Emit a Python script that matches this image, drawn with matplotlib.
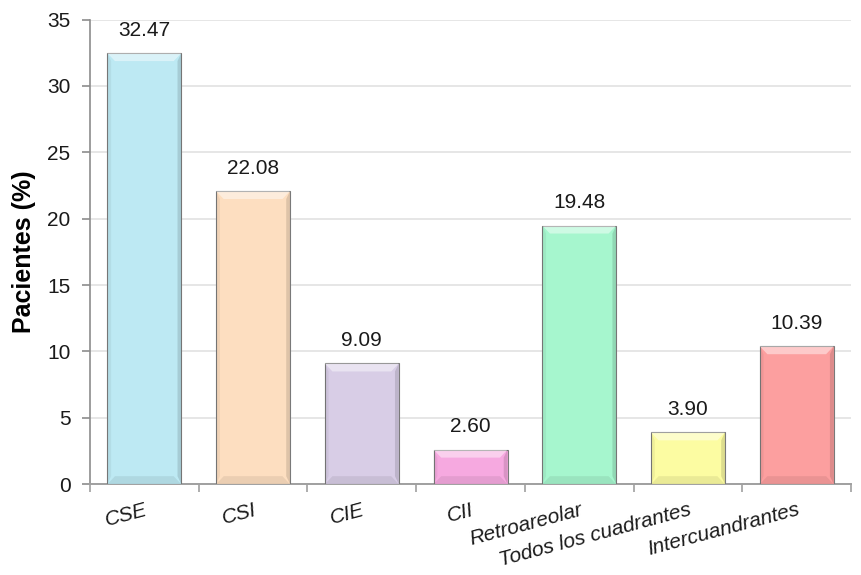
import numpy as np
import matplotlib
matplotlib.use('Agg')
import matplotlib.pyplot as plt
from matplotlib.patches import Polygon
from matplotlib import transforms

# Localización del tumor por cuadrante
categorias = ['CSE', 'CSI', 'CIE', 'CII', 'Retroareolar',
              'Todos los cuadrantes', 'Intercuandrantes']
porcentajes = [32.47, 22.08, 9.09, 2.60, 19.48, 3.90, 10.39]
colores = ['#bde9f3', '#fddec0', '#d8cde6', '#f6a9e0',
           '#a6f6ce', '#fcfca2', '#fc9f9f']
yticks = [0, 5, 10, 15, 20, 25, 30, 35]

plt.rcParams['font.family'] = ['Liberation Sans', 'DejaVu Sans']

fig = plt.figure(figsize=(8.61, 5.75), dpi=100)
ax = fig.add_axes([0.1045, 0.158, 0.884, 0.808])

x = np.arange(len(categorias))
ancho = 0.68
barras = ax.bar(x, porcentajes, width=ancho, color=colores,
                edgecolor='#7a7a7a', linewidth=0.8, zorder=3)

ax.set_xlim(-0.5, len(categorias) - 0.5)
ax.set_ylim(0, 35)

# bisel: franja clara arriba, sombra abajo y a los lados
bw = 0.07    # en unidades de x
bh = 0.6     # en unidades de y
for b in barras:
    x0 = b.get_x()
    x1 = x0 + b.get_width()
    h = b.get_height()
    top = Polygon([(x0, h), (x1, h), (x1 - bw, h - bh), (x0 + bw, h - bh)],
                  closed=True, facecolor='white', alpha=0.45, lw=0, zorder=4)
    bot = Polygon([(x0, 0), (x1, 0), (x1 - bw, bh), (x0 + bw, bh)],
                  closed=True, facecolor='black', alpha=0.07, lw=0, zorder=4)
    izq = Polygon([(x0, 0), (x0 + bw * 0.5, bh), (x0 + bw * 0.5, h - bh), (x0, h)],
                  closed=True, facecolor='black', alpha=0.05, lw=0, zorder=4)
    der = Polygon([(x1, 0), (x1 - bw * 0.5, bh), (x1 - bw * 0.5, h - bh), (x1, h)],
                  closed=True, facecolor='black', alpha=0.12, lw=0, zorder=4)
    for p in (top, bot, izq, der):
        ax.add_patch(p)

for xi, v in zip(x, porcentajes):
    ax.annotate(f'{v:.2f}', (xi, v), xytext=(0, 9.5), textcoords='offset points',
                ha='center', va='bottom', fontsize=15, color='#1a1a1a')

ax.set_yticks(yticks)
ax.set_yticklabels([str(t) for t in yticks], fontsize=15, color='#1a1a1a')
ax.yaxis.grid(True, color='#e6e6e6', linewidth=1.4, zorder=0)
ax.set_axisbelow(True)
ax.tick_params(axis='y', direction='out', length=6, width=1.2,
               color='#8c8c8c', pad=8)

# separadores de categoría en el eje x
ax.set_xticks(x)
ax.set_xticklabels([])
ax.tick_params(axis='x', which='major', length=0)
ax.set_xticks(np.arange(len(categorias) + 1) - 0.5, minor=True)
ax.tick_params(axis='x', which='minor', direction='out', length=6,
               width=1.2, color='#a0a0a0')

off = transforms.offset_copy(ax.get_xaxis_transform(), fig=fig, x=0, y=-16,
                             units='dots')
for xi, nombre in zip(x, categorias):
    ax.text(xi, 0, nombre, transform=off, rotation=15, rotation_mode='anchor',
            ha='right', va='top', fontsize=15, style='italic',
            color='#1a1a1a')

for s in ('top', 'right'):
    ax.spines[s].set_visible(False)
ax.spines['left'].set_color('#8c8c8c')
ax.spines['left'].set_linewidth(1.2)
ax.spines['bottom'].set_color('#a0a0a0')
ax.spines['bottom'].set_linewidth(1.4)

ax.set_ylabel('Pacientes (%)', fontsize=18, fontweight='bold', labelpad=8)

fig.savefig('out.png', dpi=100)
